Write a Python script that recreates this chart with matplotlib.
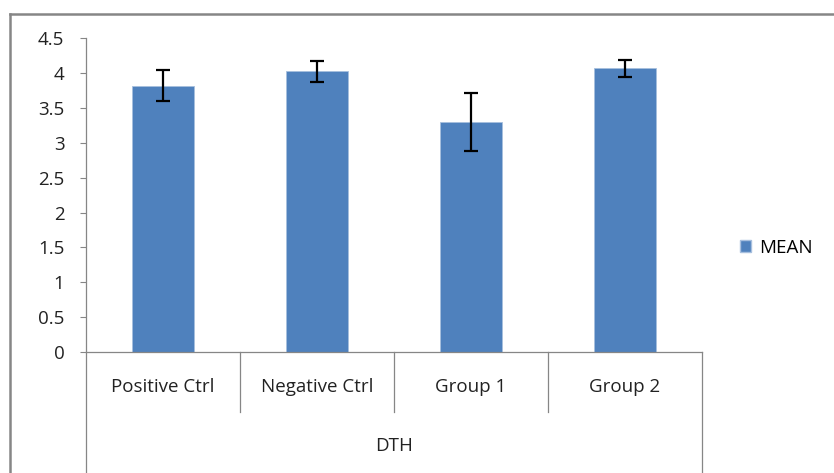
import numpy as np
import matplotlib.pyplot as plt
from matplotlib.lines import Line2D
from matplotlib.patches import Patch

# data
categories = ['Positive Ctrl', 'Negative Ctrl', 'Group 1', 'Group 2']
group_label = 'DTH'
mean_vals = [3.82, 4.03, 3.30, 4.07]
err_vals = [0.22, 0.15, 0.41, 0.12]
y_ticks = [0, 0.5, 1, 1.5, 2, 2.5, 3, 3.5, 4, 4.5]
y_tick_labels = ['0', '0.5', '1', '1.5', '2', '2.5', '3', '3.5', '4', '4.5']
series_name = 'MEAN'

bar_color = '#4F81BD'
grey = '#868686'
txt = '#222222'
fs = 13.5
W, H = 834, 473

plt.rcParams['font.family'] = ['Open Sans', 'DejaVu Sans']

fig = plt.figure(figsize=(W / 100, H / 100), dpi=100)
ax = fig.add_axes([86 / W, 1 - 352 / H, (702 - 86) / W, (352 - 38.3) / H])

x = np.arange(len(categories))
ax.bar(x, mean_vals, width=0.40, color=bar_color, edgecolor='#A7BFDE', linewidth=0.6, zorder=2)
ax.errorbar(x, mean_vals, yerr=err_vals, fmt='none', ecolor='black', elinewidth=1.6,
            capsize=5, capthick=1.6, zorder=3)

ax.set_xlim(-0.5, len(categories) - 0.5)
ax.set_ylim(0, 4.5)
ax.set_yticks(y_ticks)
ax.set_yticklabels(y_tick_labels, fontsize=fs, color=txt)
ax.tick_params(axis='y', direction='out', length=4.5, width=0.8, color=grey, pad=11)
ax.set_xticks([])
for s in ['top', 'right']:
    ax.spines[s].set_visible(False)
for s in ['left', 'bottom']:
    ax.spines[s].set_color(grey)
    ax.spines[s].set_linewidth(0.9)

# multi-level category axis: dividers and labels below the axis
trans = ax.get_xaxis_transform()
ax_h = (352 - 38.3)
inner_bottom = -(412 - 352) / ax_h
outer_bottom = -(472 - 352) / ax_h
edges = np.arange(len(categories) + 1) - 0.5
for i, e in enumerate(edges):
    yb = outer_bottom if i in (0, len(edges) - 1) else inner_bottom
    ax.add_line(Line2D([e, e], [0, yb], transform=trans, color=grey, lw=0.9, clip_on=False))
for xi, lab in zip(x, categories):
    ax.text(xi, -(387 - 352) / ax_h, lab, transform=trans, ha='center', va='center',
            fontsize=fs, color=txt)
ax.text(np.mean(x), -(446 - 352) / ax_h, group_label, transform=trans, ha='center',
        va='center', fontsize=fs, color=txt)

# legend
fig.legend(handles=[Patch(facecolor=bar_color, edgecolor='#A7BFDE', label=series_name)],
           loc='center left', bbox_to_anchor=(723 / W, 1 - 248 / H), frameon=False,
           fontsize=fs, handlelength=0.6, handleheight=0.6, handletextpad=0.45)

# chart area border (top and left visible)
fig.add_artist(Line2D([10 / W, 1], [1 - 14 / H, 1 - 14 / H], transform=fig.transFigure,
                      color=grey, lw=1.8))
fig.add_artist(Line2D([10 / W, 10 / W], [0, 1 - 14 / H], transform=fig.transFigure,
                      color=grey, lw=1.8))

fig.savefig('out.png', dpi=100)
